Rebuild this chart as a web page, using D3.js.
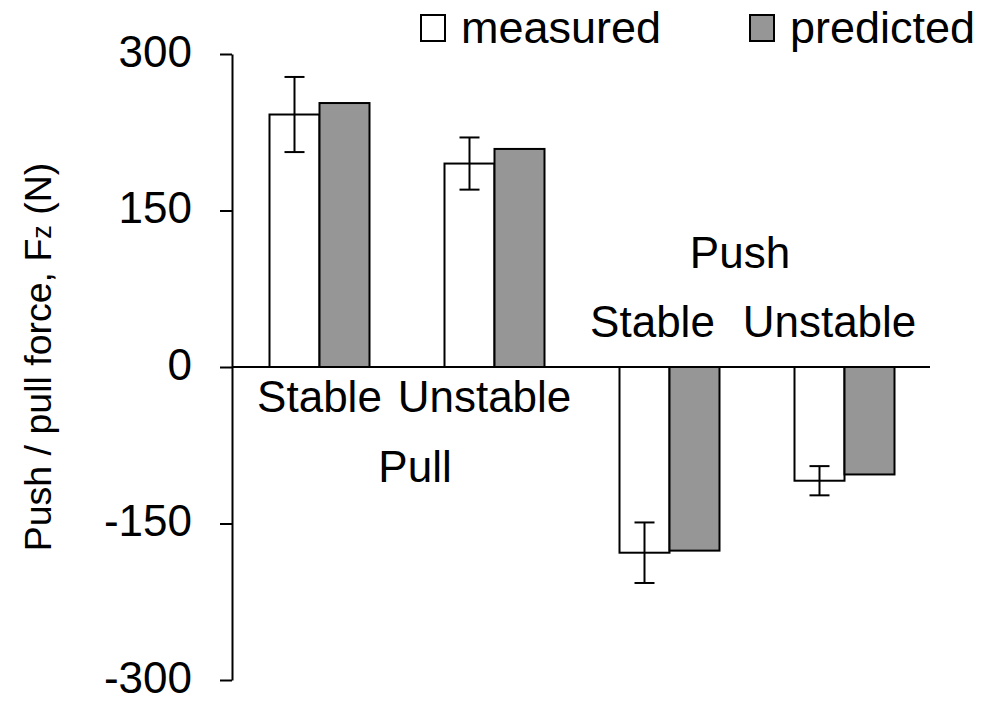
<!DOCTYPE html>
<html>
<head>
<meta charset="utf-8">
<script src="https://cdn.jsdelivr.net/npm/d3@7"></script>
<style>
  body { margin: 0; background: #fff; }
  text { font-family: "Liberation Sans", Arial, sans-serif; fill: #000; }
</style>
</head>
<body>
<div id="chart"></div>
<script>
// groups along the x axis
const groups = ["pullStable", "pullUnstable", "pushStable", "pushUnstable"];
const series = ["measured", "predicted"];
const measured = [242, 195, -178, -109];
const measuredErr = [36, 25, 29, 14];
const predicted = [253, 209, -176, -103];
const yTicks = [-300, -150, 0, 150, 300];
const subLabels = ["Stable", "Unstable", "Stable", "Unstable"];

const width = 987, height = 702;
const colors = { measured: "#ffffff", predicted: "#969696" };

const svg = d3.select("#chart")
    .append("svg")
    .attr("width", width)
    .attr("height", height);

const y = d3.scaleLinear().domain([-300, 300]).range([680, 54]);
const x = d3.scaleBand().domain(groups).range([232, 932]);

// y axis (plain hyphen for negatives, like the original)
const yAxis = svg.append("g")
    .attr("transform", "translate(232,0)")
    .call(d3.axisLeft(y).tickValues(yTicks).tickFormat(d => String(d))
        .tickSize(12).tickSizeOuter(0).tickPadding(28));
yAxis.select(".domain").attr("stroke", "#000").attr("stroke-width", 2);
yAxis.selectAll(".tick line").attr("stroke", "#000").attr("stroke-width", 2);
yAxis.selectAll(".tick text")
    .attr("dy", "0.28em")
    .attr("font-size", 44)
    .attr("font-family", "'Liberation Sans', Arial, sans-serif")
    .attr("fill", "#000");

// bars
const rows = groups.map((g, i) => ({ g, i, measured: measured[i], predicted: predicted[i], err: measuredErr[i] }));

const groupSel = svg.selectAll("g.group")
    .data(rows)
    .enter().append("g")
    .attr("class", "group");

groupSel.each(function(d) {
    const cx = x(d.g) + x.bandwidth() / 2;
    const inner = d3.scaleBand().domain(series).range([cx - 50, cx + 50]);
    const g = d3.select(this);
    series.forEach(s => {
        const v = d[s];
        g.append("rect")
            .attr("x", inner(s))
            .attr("width", inner.bandwidth())
            .attr("y", Math.min(y(v), y(0)))
            .attr("height", Math.abs(y(v) - y(0)))
            .attr("fill", colors[s])
            .attr("stroke", "#000")
            .attr("stroke-width", 2);
    });
    // error bar on measured
    const ex = inner("measured") + inner.bandwidth() / 2;
    const lo = y(d.measured - d.err), hi = y(d.measured + d.err);
    g.append("line").attr("x1", ex).attr("x2", ex).attr("y1", lo).attr("y2", hi)
        .attr("stroke", "#000").attr("stroke-width", 2);
    [lo, hi].forEach(py => {
        g.append("line").attr("x1", ex - 10).attr("x2", ex + 10).attr("y1", py).attr("y2", py)
            .attr("stroke", "#000").attr("stroke-width", 2);
    });
});

// zero line
svg.append("line")
    .attr("x1", 232).attr("x2", 930)
    .attr("y1", y(0)).attr("y2", y(0))
    .attr("stroke", "#000").attr("stroke-width", 2);

// category labels
const labelPos = [
    { dx: 0, y: 412 },
    { dx: -10, y: 412 },
    { dx: -17, y: 337 },
    { dx: -15, y: 337 }
];
subLabels.forEach((t, i) => {
    svg.append("text")
        .attr("x", x(groups[i]) + x.bandwidth() / 2 + labelPos[i].dx)
        .attr("y", labelPos[i].y)
        .attr("text-anchor", "middle")
        .attr("font-size", 44)
        .text(t);
});
svg.append("text")
    .attr("x", (x("pullStable") + x("pullUnstable") + x.bandwidth()) / 2 + 8)
    .attr("y", 482)
    .attr("text-anchor", "middle")
    .attr("font-size", 44)
    .text("Pull");
svg.append("text")
    .attr("x", (x("pushStable") + x("pushUnstable") + x.bandwidth()) / 2 - 17)
    .attr("y", 268)
    .attr("text-anchor", "middle")
    .attr("font-size", 44)
    .text("Push");

// y axis title
const title = svg.append("text")
    .attr("transform", "translate(51,357) rotate(-90)")
    .attr("text-anchor", "middle")
    .attr("font-size", 37.5);
title.append("tspan").text("Push / pull force, F");
title.append("tspan").attr("font-size", 27).text("z");
title.append("tspan").text(" (N)");

// legend
const legendItems = [
    { s: "measured", bx: 421, tx: 461 },
    { s: "predicted", bx: 750, tx: 790 }
];
legendItems.forEach(l => {
    svg.append("rect")
        .attr("x", l.bx).attr("y", 15)
        .attr("width", 24).attr("height", 26)
        .attr("fill", colors[l.s])
        .attr("stroke", "#000").attr("stroke-width", 2);
    svg.append("text")
        .attr("x", l.tx).attr("y", 43)
        .attr("font-size", 45)
        .text(l.s);
});
</script>
</body>
</html>
